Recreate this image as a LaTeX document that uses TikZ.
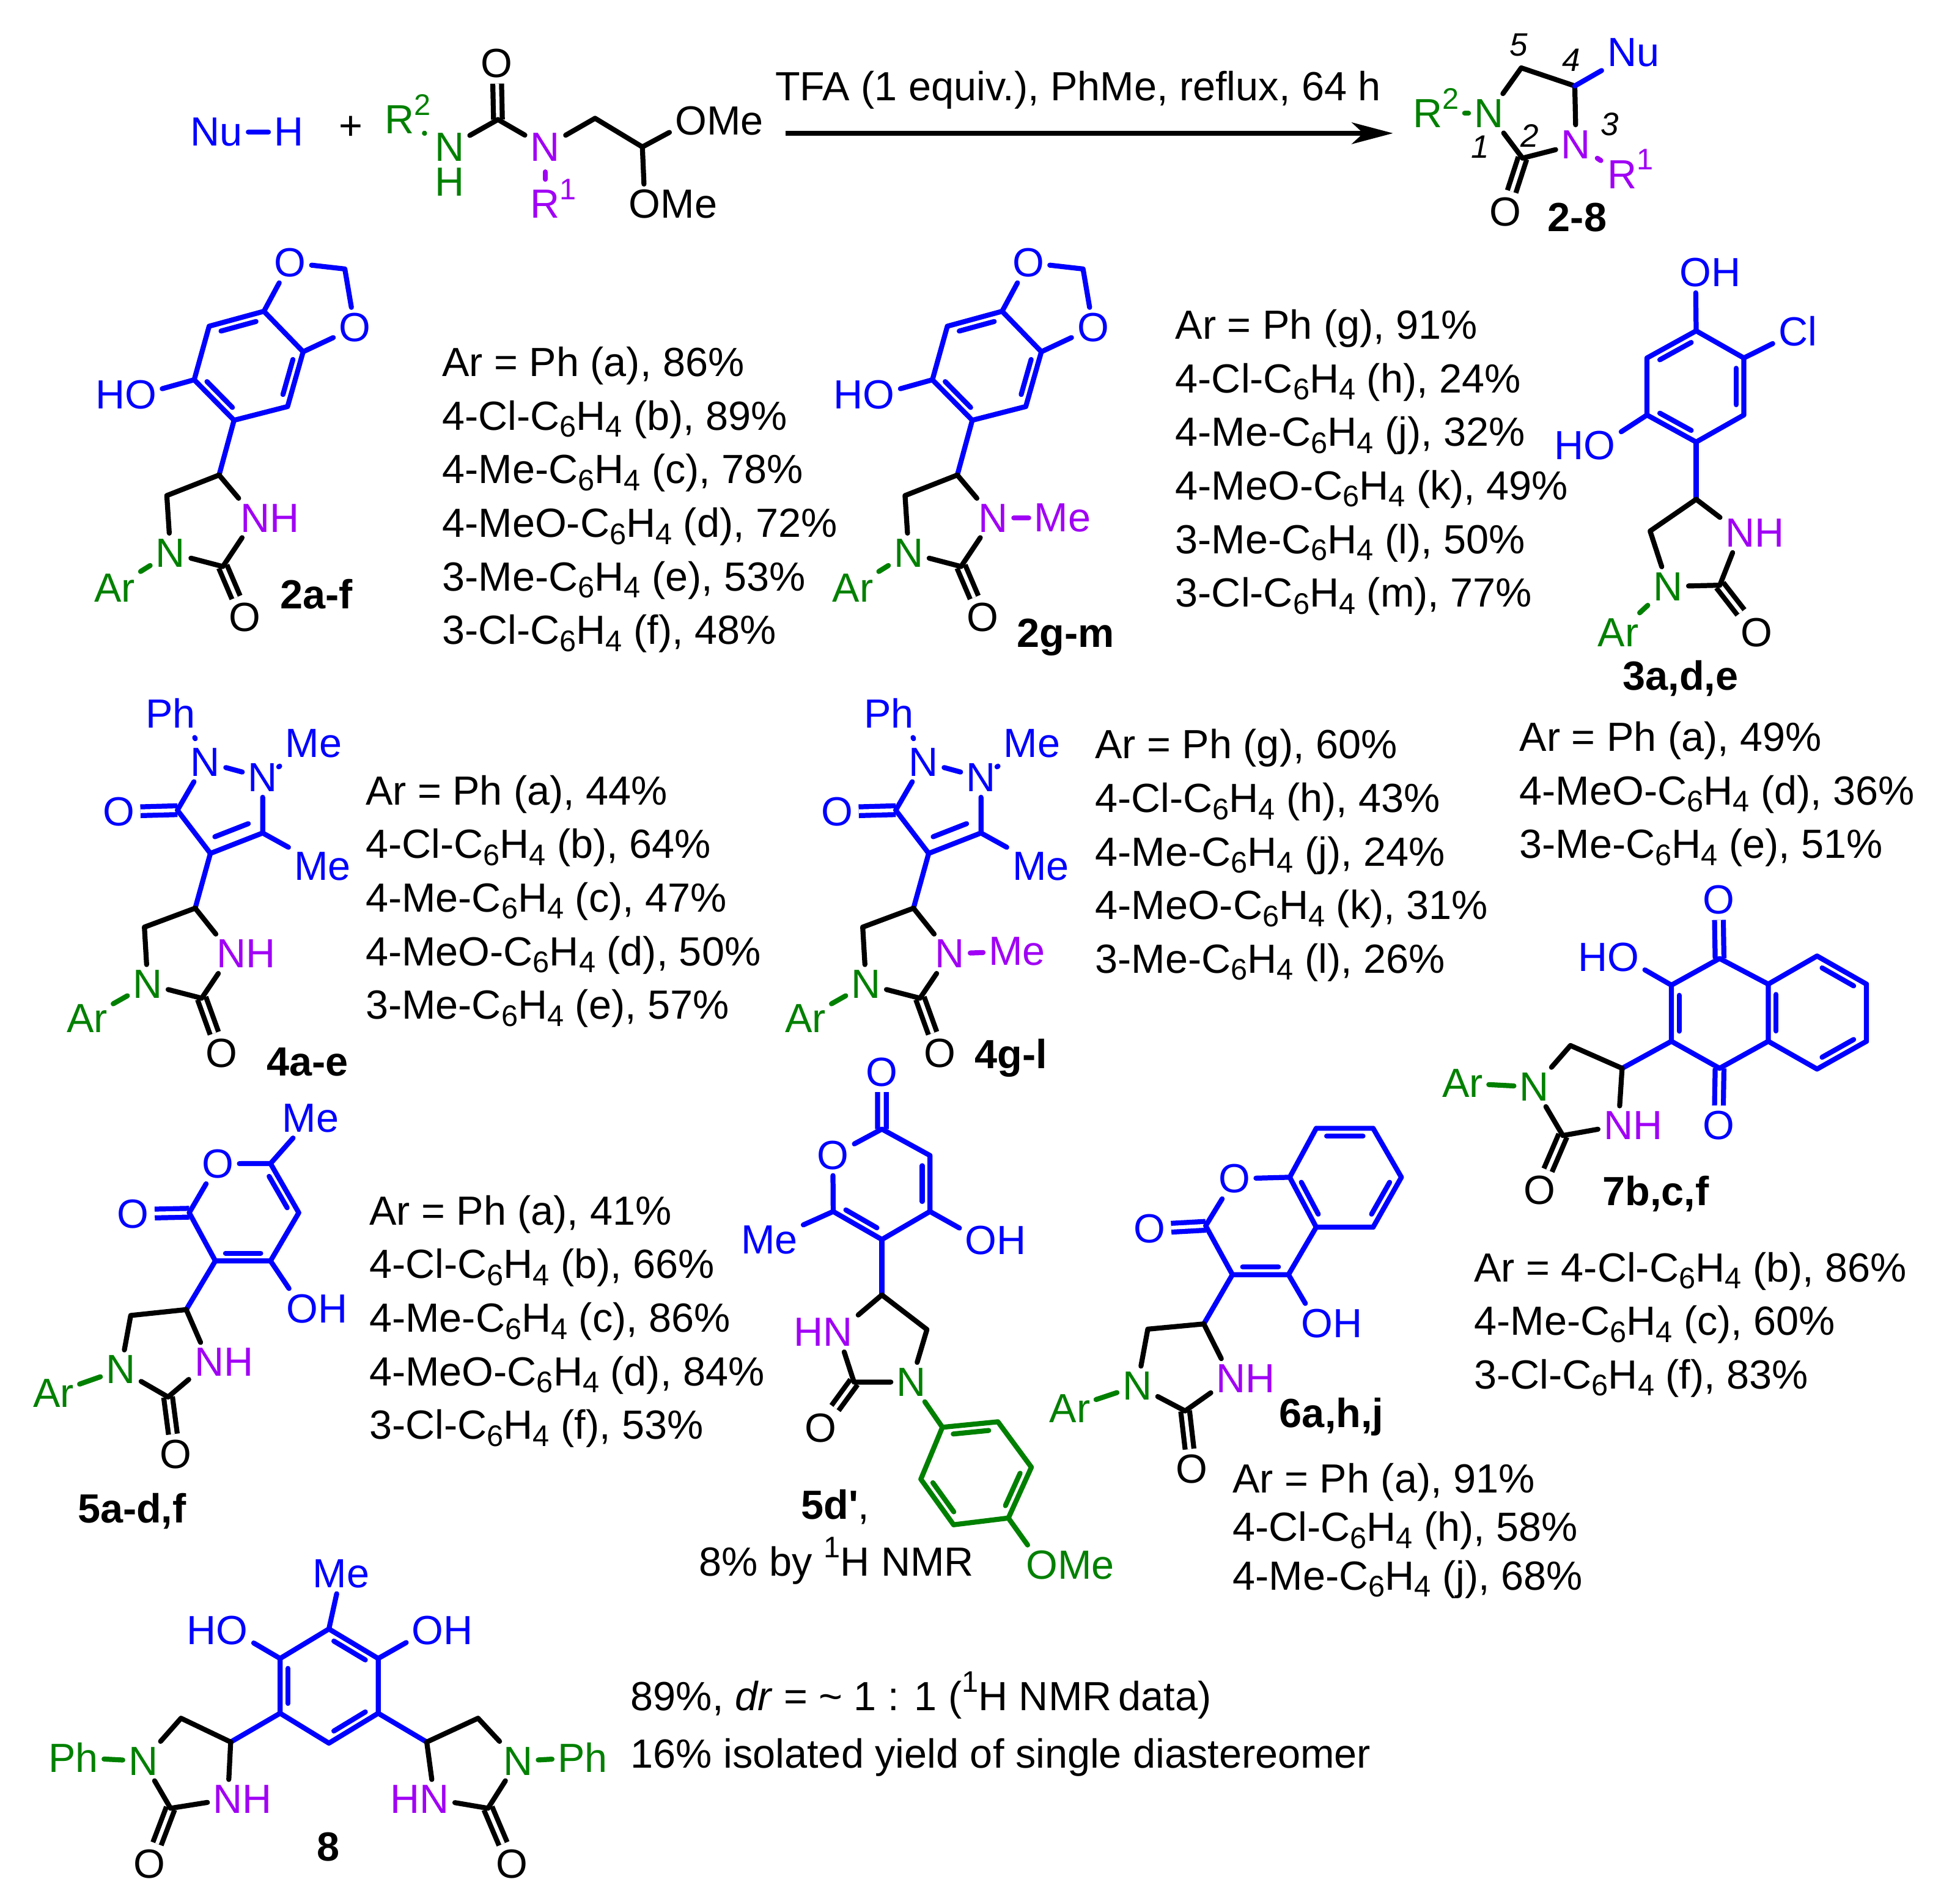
\documentclass[tikz,border=0pt]{standalone}
\usepackage{fontspec}
\setmainfont{Liberation Sans}
\usetikzlibrary{calc,arrows.meta}
\definecolor{nublue}{RGB}{0,0,255}
\definecolor{argreen}{RGB}{0,128,0}
\definecolor{nhpurple}{RGB}{160,0,245}
\tikzset{
	atom/.style={inner sep=1.3pt, outer sep=0pt},
	bond/.style={line width=1.15pt, line cap=round, line join=round},
	stub/.style={bond, shorten <=1.2pt, shorten >=1.2pt},
	dbl/.style={line width=1.15pt, double, double distance=0.85pt, line cap=butt},
	cpd/.style={anchor=base, inner sep=0pt, font=\fontsize{9.3}{11.2}\selectfont\bfseries},
	locant/.style={inner sep=0pt, font=\fontsize{7.4}{9}\selectfont\itshape},
	yields/.style={anchor=north west, align=left, inner sep=0pt, font=\fontsize{9.3}{12.23}\selectfont},
	yieldstight/.style={yields, font=\fontsize{9.3}{11.1}\selectfont},
}
\newcommand{\supr}[1]{\smash{\raisebox{4.2pt}{\fontsize{6.8}{7}\selectfont #1}}}
\newcommand{\subr}[1]{\smash{\raisebox{-1.6pt}{\fontsize{6.8}{7}\selectfont #1}}}
\newcommand{\cfh}{C\subr{6}H\subr{4}}
\newcommand{\inbond}[4]{\draw[bond,#1] ($(#2)!.12!(#3)!.16!(#4)$) -- ($(#3)!.12!(#2)!.16!(#4)$);}
% urea ring, the same in every product
\newcommand{\urearing}{
	\draw[dbl] (c2) -- (o2);
	\draw[bond] (c4) -- (c5) -- (n1);
	\draw[bond] (n1) -- (c2) -- (n3) -- (c4);
	\draw[bond,argreen] (ar) -- (n1);
}
\newcommand{\sesamol}[1]{
	\coordinate (a1) at (212,250); \coordinate (a2) at (243.5,282.5); \coordinate (a3) at (231,326.5);
	\coordinate (a4) at (188,337.5); \coordinate (a5) at (156,305); \coordinate (a6) at (168,262);
	\coordinate (rc) at ($(a1)!.5!(a4)$);
	\coordinate (ch2) at (277,216);
	\coordinate (c4) at (176,381.5); \coordinate (c5) at (134,398); \coordinate (c2) at (179,455);
	\node[atom,nublue] (oa) at (233,211) {O};
	\node[atom,nublue] (ob) at (285,263) {O};
	\node[atom,nublue] (oh) at (113,317) {\llap{H}O};
	\node[atom,argreen] (n1) at (137,444) {N};
	\node[atom,nhpurple] (n3) at (205,416) {#1};
	\node[atom] (o2) at (196.5,496) {O};
	\node[atom,argreen] (ar) at (92,472) {Ar};
	\draw[bond,nublue] (a1) -- (a2) -- (a3) -- (a4) -- (a5) -- (a6) -- cycle;
	\inbond{nublue}{a6}{a1}{rc}
	\inbond{nublue}{a2}{a3}{rc}
	\inbond{nublue}{a5}{a4}{rc}
	\draw[bond,nublue] (a1) -- (oa);
	\draw[bond,nublue] (oa) -- (ch2) -- (ob);
	\draw[bond,nublue] (ob) -- (a2);
	\draw[bond,nublue] (oh) -- (a5);
	\draw[bond,nublue] (a4) -- (c4);
	\urearing
}
\newcommand{\pyrazolone}[1]{
	\coordinate (pc5) at (142.5,650.7); \coordinate (pc3) at (169,685.4); \coordinate (pc4) at (211,669);
	\coordinate (c4) at (156.8,729.4); \coordinate (c5) at (116,744.6); \coordinate (c2) at (162,801.7);
	\node[atom,nublue] (ph) at (148,573) {\llap{P}h};
	\node[atom,nublue] (na) at (165,612) {N};
	\node[atom,nublue] (nb) at (211,624.5) {N};
	\node[atom,nublue] (mea) at (252,597) {Me};
	\node[atom,nublue] (meb) at (259,695.6) {Me};
	\node[atom,nublue] (ox) at (95.5,652) {O};
	\node[atom,argreen] (n1) at (118.7,790.5) {N};
	\node[atom,nhpurple] (n3) at (186,766) {#1};
	\node[atom] (o2) at (178,846) {O};
	\node[atom,argreen] (ar) at (70,818) {Ar};
	\draw[dbl,nublue] (pc5) -- (ox);
	\draw[stub,nublue] (ph) -- (na);
	\draw[bond,nublue] (na) -- (nb);
	\draw[stub,nublue] (nb) -- (mea);
	\draw[bond,nublue] (na) -- (pc5) -- (pc3) -- (pc4) -- (nb);
	\inbond{nublue}{pc3}{pc4}{na}
	\draw[bond,nublue] (pc4) -- (meb);
	\draw[bond,nublue] (pc3) -- (c4);
	\urearing
}

\begin{document}
\begin{tikzpicture}[x=0.01cm, y=-0.01cm, font=\fontsize{9.3}{11.2}\selectfont]
	\path[use as bounding box] (0,0) rectangle (1568,1529);

	%%% reaction line
	\node[atom,nublue] (nu) at (174,106) {Nu};
	\node[atom,nublue] (nuh) at (232,106) {H};
	\draw[bond,nublue] (nu) -- (nuh);
	\node[atom] (plus) at (282,103) {+};

	\coordinate (sc) at (400,96); \coordinate (sch2) at (478,95); \coordinate (sch) at (516,118);
	\node[atom,argreen] (sr2) at (321,96) {R\rlap{\supr{2}}};
	\node[atom,argreen] (sn1) at (361,118) {N};
	\node[atom,argreen] (sh) at (361,146) {H};
	\node[atom,nhpurple] (sn3) at (438,118) {N};
	\node[atom,nhpurple] (sr1) at (438,164) {R\rlap{\supr{1}}};
	\node[atom] (so) at (399,51) {O};
	\node[atom] (some) at (555,97) {O\rlap{Me}};
	\node[atom] (sometwo) at (518,164) {O\rlap{Me}};
	\draw[dbl] (sc) -- (so);
	\draw[stub,argreen] (sr2) -- (sn1);
	\draw[stub,nhpurple] (sn3) -- (sr1);
	\draw[bond] (sn1) -- (sc) -- (sn3) -- (sch2) -- (sch) -- (some);
	\draw[bond] (sch) -- (sometwo);

	\node[anchor=base west,inner sep=0pt] (cond) at (622,81) {TFA (1 equiv.), PhMe, reflux, 64 h};
	\coordinate (arrs) at (631,107);
	\coordinate (arre) at (1119,107);
	\draw[bond,line cap=butt,-{Stealth[length=9.4pt,width=4.9pt,inset=2.6pt]}] (arrs) -- (arre);

	%%% general product
	\coordinate (gc5) at (1222,54.5); \coordinate (gc4) at (1265,69); \coordinate (gc2) at (1223,127);
	\node[atom,argreen] (gr2) at (1153.5,91) {R\supr{2}};
	\node[atom,argreen] (gn1) at (1196,91) {N};
	\node[atom,nhpurple] (gn3) at (1266,116) {N};
	\node[atom,nhpurple] (gr1) at (1303,140) {R\rlap{\supr{1}}};
	\node[atom,nublue] (gnu) at (1312,42) {Nu};
	\node[atom] (go) at (1209,170) {O};
	\draw[dbl] (gc2) -- (go);
	\draw[bond,argreen] (gr2) -- (gn1);
	\draw[stub,nhpurple] (gn3) -- (gr1);
	\draw[bond] (gn1) -- (gc5) -- (gc4) -- (gn3) -- (gc2) -- (gn1);
	\draw[bond,nublue] (gc4) -- (gnu);
	\node[locant] (lfive) at (1220,36) {5};
	\node[locant] (lfour) at (1262,48) {4};
	\node[locant] (lthree) at (1293,100) {3};
	\node[locant] (ltwo) at (1229,109) {2};
	\node[locant] (lone) at (1189,118) {1};
	\node[cpd] (cpdgen) at (1267,186) {2-8};

	%%% 2a-f
	\begin{scope}[name prefix=aa-]
		\sesamol{N\rlap{H}}
	\end{scope}
	\node[cpd] (cpdaa) at (254,489) {2a-f};
	\node[yields] (listaa) at (354.5,278) {Ar = Ph (a), 86\%\\4-Cl-\cfh{} (b), 89\%\\4-Me-\cfh{} (c), 78\%\\4-MeO-\cfh{} (d), 72\%\\3-Me-\cfh{} (e), 53\%\\3-Cl-\cfh{} (f), 48\%};

	%%% 2g-m
	\begin{scope}[shift={(593,0)},name prefix=ag-]
		\sesamol{N}
		\node[atom,nhpurple] (me) at (260.6,416) {Me};
		\draw[bond,nhpurple] (n3) -- (me);
	\end{scope}
	\node[cpd] (cpdag) at (856,520) {2g-m};
	\node[yields] (listag) at (943.5,248) {Ar = Ph (g), 91\%\\4-Cl-\cfh{} (h), 24\%\\4-Me-\cfh{} (j), 32\%\\4-MeO-\cfh{} (k), 49\%\\3-Me-\cfh{} (l), 50\%\\3-Cl-\cfh{} (m), 77\%};

	%%% 3a,d,e
	\coordinate (ca) at (1362.5,265.7); \coordinate (cb) at (1400.8,287.5); \coordinate (cc) at (1400.8,333.3);
	\coordinate (cd) at (1362.5,355); \coordinate (ce) at (1323,333.3); \coordinate (cf) at (1323,287.5);
	\coordinate (crc) at ($(ca)!.5!(cd)$);
	\coordinate (c-c4) at (1362.5,401); \coordinate (c-c5) at (1325.5,426.5); \coordinate (c-c2) at (1381.5,470);
	\node[atom,nublue] (coh) at (1362,219) {O\rlap{H}};
	\node[atom,nublue] (ccl) at (1444,266) {Cl};
	\node[atom,nublue] (cho) at (1285,358) {\llap{H}O};
	\node[atom,argreen] (c-n1) at (1340,471) {N};
	\node[atom,nhpurple] (c-n3) at (1398,428) {N\rlap{H}};
	\node[atom] (c-o2) at (1411,508) {O};
	\node[atom,argreen] (c-ar) at (1300,508) {Ar};
	\draw[bond,nublue] (ca) -- (cb) -- (cc) -- (cd) -- (ce) -- (cf) -- cycle;
	\inbond{nublue}{cf}{ca}{crc}
	\inbond{nublue}{cb}{cc}{crc}
	\inbond{nublue}{ce}{cd}{crc}
	\draw[bond,nublue] (ca) -- (coh);
	\draw[bond,nublue] (cb) -- (ccl);
	\draw[bond,nublue] (ce) -- (cho);
	\draw[bond,nublue] (cd) -- (c-c4);
	\begin{scope}[name prefix=c-]
		\urearing
	\end{scope}
	\node[cpd] (cpdc) at (1350,554) {3a,d,e};
	\node[yields] (listc) at (1220,579) {Ar = Ph (a), 49\%\\4-MeO-\cfh{} (d), 36\%\\3-Me-\cfh{} (e), 51\%};

	%%% 4a-e
	\begin{scope}[name prefix=da-]
		\pyrazolone{N\rlap{H}}
	\end{scope}
	\node[cpd] (cpdda) at (247,864) {4a-e};
	\node[yields] (listda) at (293,622) {Ar = Ph (a), 44\%\\4-Cl-\cfh{} (b), 64\%\\4-Me-\cfh{} (c), 47\%\\4-MeO-\cfh{} (d), 50\%\\3-Me-\cfh{} (e), 57\%};

	%%% 4g-l
	\begin{scope}[shift={(577,0)},name prefix=dg-]
		\pyrazolone{N}
		\node[atom,nhpurple] (me) at (240,764) {Me};
		\draw[bond,nhpurple] (n3) -- (me);
	\end{scope}
	\node[cpd] (cpddg) at (812,858) {4g-l};
	\node[yields] (listdg) at (879,585) {Ar = Ph (g), 60\%\\4-Cl-\cfh{} (h), 43\%\\4-Me-\cfh{} (j), 24\%\\4-MeO-\cfh{} (k), 31\%\\3-Me-\cfh{} (l), 26\%};

	%%% 7b,c,f
	\coordinate (ga) at (1381.3,769.8); \coordinate (gb) at (1342.6,791.2); \coordinate (gc) at (1342.6,836.3);
	\coordinate (gd) at (1381.3,858); \coordinate (ge) at (1420.4,836.3); \coordinate (gf) at (1420.4,790.4);
	\coordinate (gg) at (1459.6,767.8); \coordinate (gh) at (1499.3,790.4); \coordinate (gi) at (1499.3,836.3); \coordinate (gj) at (1459.6,858.6);
	\coordinate (grc) at ($(gf)!.5!(gi)$);
	\coordinate (glc) at ($(ga)!.5!(gd)$);
	\coordinate (s-c4) at (1303,858); \coordinate (s-c5) at (1261.5,839.7); \coordinate (s-c2) at (1255.4,912);
	\node[atom,nublue] (gox) at (1380.5,722.7) {O};
	\node[atom,nublue] (goy) at (1380.5,904) {O};
	\node[atom,nublue] (gho) at (1304,769) {\llap{H}O};
	\node[atom,argreen] (s-n1) at (1232.5,873) {N};
	\node[atom,nhpurple] (s-n3) at (1300,904) {N\rlap{H}};
	\node[atom] (s-o2) at (1236.5,956) {O};
	\node[atom,argreen] (s-ar) at (1175,870) {Ar};
	\draw[dbl,nublue] (ga) -- (gox);
	\draw[dbl,nublue] (gd) -- (goy);
	\draw[bond,nublue] (ga) -- (gb) -- (gc) -- (gd) -- (ge) -- (gf) -- cycle;
	\draw[bond,nublue] (gf) -- (gg) -- (gh) -- (gi) -- (gj) -- (ge);
	\inbond{nublue}{gb}{gc}{glc}
	\inbond{nublue}{gf}{ge}{grc}
	\inbond{nublue}{gg}{gh}{grc}
	\inbond{nublue}{gi}{gj}{grc}
	\draw[bond,nublue] (gb) -- (gho);
	\draw[bond,nublue] (gc) -- (s-c4);
	\begin{scope}[name prefix=s-]
		\urearing
	\end{scope}
	\node[cpd] (cpdg) at (1330,968) {7b,c,f};
	\node[yields] (listg) at (1183.5,1005) {Ar = 4-Cl-\cfh{} (b), 86\%\\4-Me-\cfh{} (c), 60\%\\3-Cl-\cfh{} (f), 83\%};

	%%% 5a-d,f
	\coordinate (ea) at (217.3,934.5); \coordinate (eb) at (240,974); \coordinate (ec) at (217.3,1012.7);
	\coordinate (ed) at (173,1012.7); \coordinate (ee) at (152,974);
	\coordinate (erc) at ($(eb)!.5!(ee)$);
	\coordinate (e-c4) at (149.6,1051.8); \coordinate (e-c5) at (105,1056.5); \coordinate (e-c2) at (135,1122);
	\node[atom,nublue] (eme) at (249.5,898) {Me};
	\node[atom,nublue] (eor) at (175,934.6) {O};
	\node[atom,nublue] (eox) at (107,975) {O};
	\node[atom,nublue] (eoh) at (243,1051) {O\rlap{H}};
	\node[atom,argreen] (e-n1) at (97,1100) {N};
	\node[atom,nhpurple] (e-n3) at (168,1094) {N\rlap{H}};
	\node[atom] (e-o2) at (141,1168) {O};
	\node[atom,argreen] (e-ar) at (43,1119) {Ar};
	\draw[dbl,nublue] (ee) -- (eox);
	\draw[bond,nublue] (eor) -- (ea) -- (eb) -- (ec) -- (ed) -- (ee) -- (eor);
	\inbond{nublue}{ea}{eb}{erc}
	\inbond{nublue}{ec}{ed}{erc}
	\draw[bond,nublue] (ea) -- (eme);
	\draw[bond,nublue] (ec) -- (eoh);
	\draw[bond,nublue] (ed) -- (e-c4);
	\begin{scope}[name prefix=e-]
		\urearing
	\end{scope}
	\node[cpd] (cpde) at (106,1223) {5a-d,f};
	\node[yields] (liste) at (296,959.4) {Ar = Ph (a), 41\%\\4-Cl-\cfh{} (b), 66\%\\4-Me-\cfh{} (c), 86\%\\4-MeO-\cfh{} (d), 84\%\\3-Cl-\cfh{} (f), 53\%};

	%%% 5d'
	\coordinate (ha) at (708.4,906.8); \coordinate (hb) at (747,928); \coordinate (hc) at (747,973);
	\coordinate (hd) at (708.4,995.5); \coordinate (he) at (669.3,973);
	\coordinate (hrc) at ($(hc)!.5!(he)+(0,-22)$);
	\coordinate (h-c4) at (708.4,1040); \coordinate (h-c5) at (744.6,1067.8); \coordinate (h-c2) at (686,1110);
	\coordinate (pa) at (757,1146.3); \coordinate (pb) at (801.6,1141.9); \coordinate (pc) at (828.5,1178.4);
	\coordinate (pd) at (810,1219.2); \coordinate (pe) at (766,1224.6); \coordinate (pf) at (739.7,1188);
	\coordinate (prc) at ($(pa)!.5!(pd)$);
	\node[atom,nublue] (hox) at (708.5,861) {O};
	\node[atom,nublue] (hor) at (669,928) {O};
	\node[atom,nublue] (hme) at (618,996) {Me};
	\node[atom,nublue] (hoh) at (788,996) {O\rlap{H}};
	\node[atom,nhpurple] (h-n3) at (673,1070) {\llap{H}N};
	\node[atom,argreen] (h-n1) at (732,1110) {N};
	\node[atom] (h-o2) at (659,1147) {O};
	\node[atom,argreen] (home) at (837,1257) {O\rlap{Me}};
	\draw[dbl,nublue] (ha) -- (hox);
	\draw[bond,nublue] (hor) -- (ha) -- (hb) -- (hc) -- (hd) -- (he) -- (hor);
	\inbond{nublue}{hb}{hc}{hrc}
	\inbond{nublue}{he}{hd}{hrc}
	\draw[bond,nublue] (he) -- (hme);
	\draw[bond,nublue] (hc) -- (hoh);
	\draw[bond,nublue] (hd) -- (h-c4);
	\draw[dbl] (h-c2) -- (h-o2);
	\draw[bond] (h-c4) -- (h-c5) -- (h-n1) -- (h-c2) -- (h-n3) -- (h-c4);
	\draw[bond,argreen] (pa) -- (pb) -- (pc) -- (pd) -- (pe) -- (pf) -- cycle;
	\inbond{argreen}{pa}{pb}{prc}
	\inbond{argreen}{pc}{pd}{prc}
	\inbond{argreen}{pe}{pf}{prc}
	\draw[bond,argreen] (h-n1) -- (pa);
	\draw[bond,argreen] (pd) -- (home);
	\node[anchor=base,inner sep=0pt] (cpdh) at (671,1220) {\textbf{5d\textquotesingle},};
	\node[anchor=base west,inner sep=0pt] (nmrh) at (561,1265.6) {8\% by \supr{1}H NMR};

	%%% 6a,h,j
	\coordinate (ja) at (968.5,984.5); \coordinate (jb) at (990,1023.7); \coordinate (jc) at (1035,1023.7);
	\coordinate (jd) at (1057.3,985.6); \coordinate (je) at (1036,945.5);
	\coordinate (jf) at (1057.3,906.2); \coordinate (jg) at (1103,906.2); \coordinate (jh) at (1125.7,945.5); \coordinate (ji) at (1103,985.6);
	\coordinate (jlc) at ($(ja)!.5!(jd)$);
	\coordinate (jrc) at ($(je)!.5!(jh)$);
	\coordinate (j-c4) at (967,1063.3); \coordinate (j-c5) at (922,1067.5); \coordinate (j-c2) at (952,1133.2);
	\node[atom,nublue] (jor) at (991.6,946.7) {O};
	\node[atom,nublue] (jox) at (923.5,987) {O};
	\node[atom,nublue] (joh) at (1058,1063) {O\rlap{H}};
	\node[atom,argreen] (j-n1) at (913.6,1113) {N};
	\node[atom,nhpurple] (j-n3) at (989,1107) {N\rlap{H}};
	\node[atom] (j-o2) at (957.4,1180) {O};
	\node[atom,argreen] (j-ar) at (859.5,1131) {Ar};
	\draw[dbl,nublue] (ja) -- (jox);
	\draw[bond,nublue] (jor) -- (ja) -- (jb) -- (jc) -- (jd) -- (je) -- (jor);
	\draw[bond,nublue] (je) -- (jf) -- (jg) -- (jh) -- (ji) -- (jd);
	\inbond{nublue}{jb}{jc}{jlc}
	\inbond{nublue}{je}{jd}{jrc}
	\inbond{nublue}{jf}{jg}{jrc}
	\inbond{nublue}{jh}{ji}{jrc}
	\draw[bond,nublue] (jc) -- (joh);
	\draw[bond,nublue] (jb) -- (j-c4);
	\begin{scope}[name prefix=j-]
		\urearing
	\end{scope}
	\node[cpd] (cpdj) at (1069.6,1146.6) {6a,h,j};
	\node[yieldstight] (listj) at (989.5,1174.4) {Ar = Ph (a), 91\%\\4-Cl-\cfh{} (h), 58\%\\4-Me-\cfh{} (j), 68\%};

	%%% 8
	\coordinate (ka) at (264.2,1308.3); \coordinate (kb) at (303.8,1332); \coordinate (kc) at (303.8,1376);
	\coordinate (kd) at (264.2,1400); \coordinate (ke) at (225,1376); \coordinate (kf) at (225,1332);
	\coordinate (krc) at ($(ka)!.5!(kd)$);
	\coordinate (l-c4) at (185.3,1399.1); \coordinate (l-c5) at (145.4,1380); \coordinate (l-c2) at (137,1452.3);
	\coordinate (r-c4) at (342.8,1399.1); \coordinate (r-c5) at (384,1380); \coordinate (r-c2) at (392,1452.3);
	\node[atom,nublue] (kme) at (274,1264) {Me};
	\node[atom,nublue] (kho) at (186.5,1309.4) {\llap{H}O};
	\node[atom,nublue] (koh) at (343.6,1309.4) {O\rlap{H}};
	\node[atom,argreen] (l-n1) at (115,1414.4) {N};
	\node[atom,nhpurple] (l-n3) at (183,1445) {N\rlap{H}};
	\node[atom] (l-o2) at (120,1497) {O};
	\node[atom,argreen] (l-ar) at (59,1411.5) {Ph};
	\node[atom,argreen] (r-n1) at (416,1414.4) {N};
	\node[atom,nhpurple] (r-n3) at (349,1445) {\llap{H}N};
	\node[atom] (r-o2) at (411,1497) {O};
	\node[atom,argreen] (r-ar) at (468,1411.5) {Ph};
	\draw[bond,nublue] (ka) -- (kb) -- (kc) -- (kd) -- (ke) -- (kf) -- cycle;
	\inbond{nublue}{ka}{kb}{krc}
	\inbond{nublue}{kc}{kd}{krc}
	\inbond{nublue}{ke}{kf}{krc}
	\draw[bond,nublue] (ka) -- (kme);
	\draw[bond,nublue] (kf) -- (kho);
	\draw[bond,nublue] (kb) -- (koh);
	\draw[bond,nublue] (ke) -- (l-c4);
	\draw[bond,nublue] (kc) -- (r-c4);
	\begin{scope}[name prefix=l-]
		\urearing
	\end{scope}
	\begin{scope}[name prefix=r-]
		\urearing
	\end{scope}
	\node[cpd] (cpdk) at (263.5,1494.5) {8};
	\node[anchor=base west,inner sep=0pt] (drk) at (506,1374) {89\%, \textit{dr} = \textasciitilde{} 1 : 1 (\supr{1}H NMR\,data)};
	\node[anchor=base west,inner sep=0pt] (isok) at (506,1420) {16\% isolated yield of single diastereomer};
\end{tikzpicture}
\end{document}
